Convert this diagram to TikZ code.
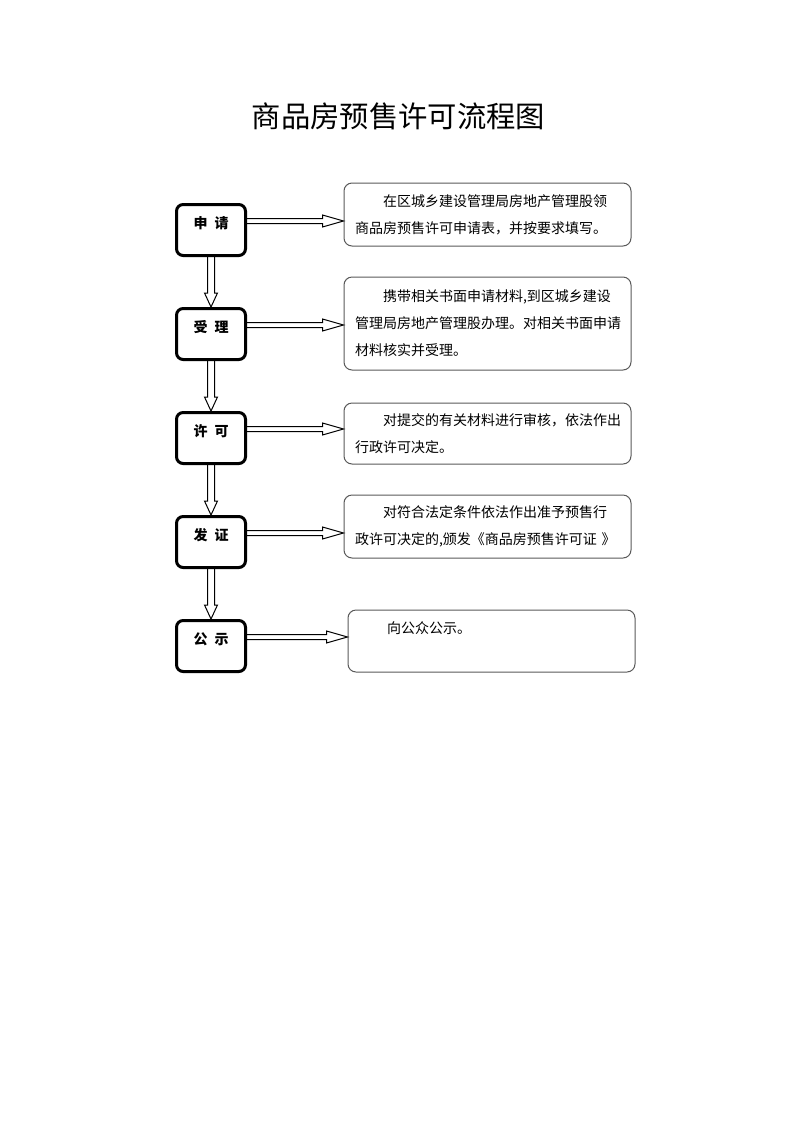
\documentclass[tikz,border=0pt]{standalone}
\usepackage{fontspec}
\setmainfont{Noto Sans CJK SC}
\usetikzlibrary{calc}

\begin{document}
\begin{tikzpicture}[x=0.75pt,y=-0.75pt]
                \tikzstyle{stepbox}=[draw=black,line width=2.25pt,rounded corners=5pt,minimum width=51.75pt,minimum height=38.25pt,inner sep=0pt,text height=8pt,text depth=10.7pt,font=\fontsize{10.5pt}{12pt}\selectfont\bfseries]
                \tikzstyle{notebox}=[draw=black!65,line width=0.75pt,rounded corners=6pt,text width=198.75pt,inner xsep=8.25pt,inner ysep=0pt,align=left,font=\fontsize{10.5pt}{20.25pt}\selectfont]
                \tikzstyle{hflow}=[draw=black,line width=0.75pt,to path={let \p1=(\tikztostart), \p2=(\tikztotarget) in (\x1,\y1+1.875pt) -- (\x2-15.75pt,\y1+1.875pt) -- (\x2-15.75pt,\y1+4.5pt) -- (\x2,\y1) -- (\x2-15.75pt,\y1-4.5pt) -- (\x2-15.75pt,\y1-1.875pt) -- (\x1,\y1-1.875pt)}]
                \tikzstyle{vflow}=[draw=black,line width=0.75pt,to path={let \p1=(\tikztostart), \p2=(\tikztotarget) in (\x1-2.625pt,\y1) -- (\x1-2.625pt,\y2+10.5pt) -- (\x1-4.875pt,\y2+10.5pt) -- (\x1,\y2) -- (\x1+4.875pt,\y2+10.5pt) -- (\x1+2.625pt,\y2+10.5pt) -- (\x1+2.625pt,\y1)}]

                \useasboundingbox (0,0) rectangle (793,1122);

                \node (title) at (398.5,116) {\fontsize{22pt}{26pt}\selectfont 商品房预售许可流程图};

                \foreach \num/\y/\txt in {1/230/申\hspace{0.5em}请, 2/334/受\hspace{0.5em}理, 3/438/许\hspace{0.5em}可, 4/542/发\hspace{0.5em}证, 5/646/公\hspace{0.5em}示}
                        \node[stepbox] (S-\num) at (211,\y) {\txt};

                \node[notebox,minimum height=47.25pt] (N-1) at (487.5,214.5)
                        {\hspace*{2em}在区城乡建设管理局房地产管理股领\\商品房预售许可申请表，并按要求填写。};
                \node[notebox,minimum height=69.75pt] (N-2) at (487.5,323.5)
                        {\hspace*{2em}携带相关书面申请材料,到区城乡建设\\管理局房地产管理股办理。对相关书面申请\\材料核实并受理。};
                \node[notebox,minimum height=45.75pt] (N-3) at (487.5,433.5)
                        {\hspace*{2em}对提交的有关材料进行审核，依法作出\\行政许可决定。};
                \node[notebox,minimum height=47.25pt] (N-4) at (487.5,526.5)
                        {\hspace*{2em}对符合法定条件依法作出准予预售行\\政许可决定的,颁发《商品房预售许可证 》};
                \node[notebox,minimum height=46.5pt] (N-5) at (491.5,641)
                        {\hspace*{2em}向公众公示。\\\mbox{}};

                    \foreach \from/\to in {1/2, 2/3, 3/4, 4/5}
                        \draw[vflow] (S-\from.south) to (S-\to.north);

                    \foreach \num in {1,...,5}
                        \draw[hflow] ($(S-\num.east)+(0,-9)$) to (N-\num.west);
            \end{tikzpicture}
\end{document}
